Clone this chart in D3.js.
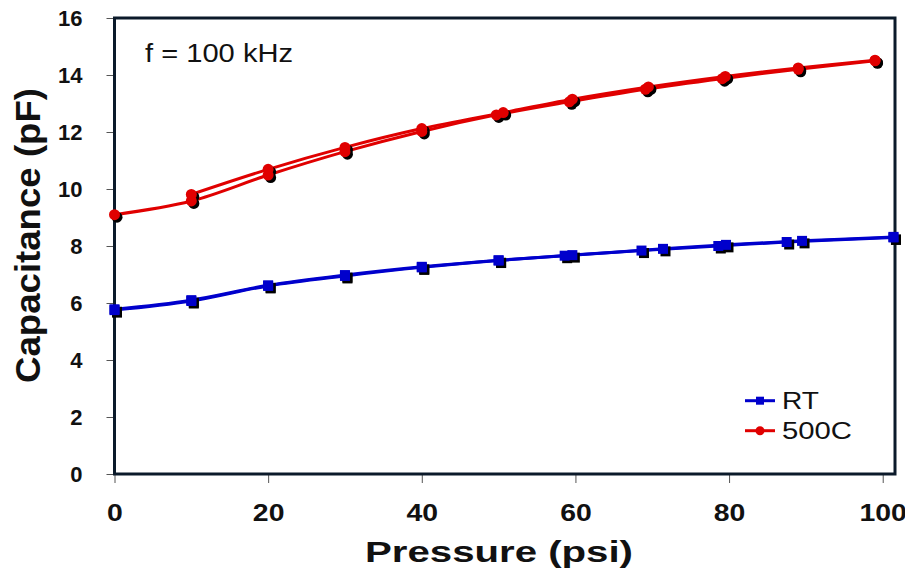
<!DOCTYPE html>
<html>
<head>
<meta charset="utf-8">
<script src="https://cdn.jsdelivr.net/npm/d3@7"></script>
<style>
  html, body { margin: 0; padding: 0; background: #fff; }
  svg { display: block; font-family: "Liberation Sans", Arial, sans-serif; }
</style>
</head>
<body>
<svg id="chart" width="905" height="576"></svg>
<script>
// Capacitance vs pressure, two sweeps per temperature
const rtSweep1X = [0, 10, 20, 30, 40, 50, 58.6, 68.6, 78.6, 87.5, 101.4];
const rtSweep1Y = [5.75, 6.07, 6.6, 6.95, 7.25, 7.49, 7.66, 7.84, 8.0, 8.14, 8.3];
const rtSweep2X = [0, 10, 20, 30, 40, 50, 59.6, 71.4, 79.6, 89.5, 101.4];
const rtSweep2Y = [5.78, 6.1, 6.62, 6.98, 7.27, 7.5, 7.68, 7.9, 8.04, 8.18, 8.32];

const hotSweep1X = [0, 10, 20, 30, 40, 49.7, 59.2, 69.1, 79.1, 89, 99];
const hotSweep1Y = [9.1, 9.58, 10.49, 11.31, 12.02, 12.6, 13.06, 13.5, 13.87, 14.2, 14.5];
const hotSweep2X = [10, 20, 30, 40, 50.6, 59.6, 69.5, 79.5, 89, 99];
const hotSweep2Y = [9.81, 10.69, 11.46, 12.12, 12.68, 13.15, 13.58, 13.95, 14.25, 14.52];

const xTicks = [0, 20, 40, 60, 80, 100];
const yTicks = [0, 2, 4, 6, 8, 10, 12, 14, 16];

const seriesNames = ["RT", "500C"];
const annotation = "f = 100 kHz";
const xTitle = "Pressure (psi)";
const yTitle = "Capacitance (pF)";

const BLUE = "#0000cc";
const RED = "#e00000";
const AXIS = "#0b1a2a";

const svg = d3.select("#chart");

const plotLeft = 114.5, plotRight = 895, plotTop = 18, plotBottom = 474;
const x = d3.scaleLinear().domain([0, 101.6]).range([plotLeft, plotRight]);
const y = d3.scaleLinear().domain([0, 16]).range([plotBottom, plotTop]);

const zip = (xs, ys) => xs.map((v, i) => [v, ys[i]]);
const rt = [zip(rtSweep1X, rtSweep1Y), zip(rtSweep2X, rtSweep2Y)];
const hot = [zip(hotSweep1X, hotSweep1Y), zip(hotSweep2X, hotSweep2Y)];

// Axes
const xAxis = svg.append("g")
  .attr("transform", `translate(0,${plotBottom})`)
  .call(d3.axisBottom(x).tickValues(xTicks).tickSize(9).tickPadding(22).tickFormat(d3.format("d")));
xAxis.select(".domain").remove();
xAxis.selectAll(".tick line").attr("stroke", "#555").attr("stroke-width", 1);
xAxis.selectAll(".tick text")
  .attr("fill", "#111")
  .style("font-size", "23px")
  .style("font-weight", "bold")
  .attr("textLength", d => String(d).length * 15.8)
  .attr("lengthAdjust", "spacingAndGlyphs");

const yAxis = svg.append("g")
  .attr("transform", `translate(${plotLeft},0)`)
  .call(d3.axisLeft(y).tickValues(yTicks).tickSize(8).tickPadding(24));
yAxis.select(".domain").remove();
yAxis.selectAll(".tick line").attr("stroke", "#555").attr("stroke-width", 1);
yAxis.selectAll(".tick text")
  .attr("fill", "#111")
  .style("font-size", "22px")
  .style("font-weight", "bold");

// Plot frame
svg.append("rect")
  .attr("x", plotLeft).attr("y", plotTop)
  .attr("width", plotRight - plotLeft).attr("height", plotBottom - plotTop)
  .attr("fill", "none").attr("stroke", AXIS).attr("stroke-width", 3);

// Lines
const line = d3.line().x(d => x(d[0])).y(d => y(d[1])).curve(d3.curveCatmullRom.alpha(0.5));
const plot = svg.append("g");

function drawSeries(sweeps, color, shape) {
  sweeps.forEach(pts => {
    plot.append("path").datum(pts)
      .attr("d", line).attr("fill", "none")
      .attr("stroke", color).attr("stroke-width", 3);
  });
  const all = sweeps.flat();
  const marks = (fill, off) => {
    if (shape === "square") {
      plot.selectAll(null).data(all).enter().append("rect")
        .attr("x", d => x(d[0]) - 5 + off).attr("y", d => y(d[1]) - 5 + off)
        .attr("width", 10).attr("height", 10).attr("fill", fill);
    } else {
      plot.selectAll(null).data(all).enter().append("circle")
        .attr("cx", d => x(d[0]) + off).attr("cy", d => y(d[1]) + off)
        .attr("r", 5.5).attr("fill", fill);
    }
  };
  marks("#000", 2.5);
  marks(color, 0);
}

drawSeries(rt, BLUE, "square");
drawSeries(hot, RED, "circle");

// Annotation
svg.append("text")
  .attr("x", 145).attr("y", 62)
  .attr("fill", "#111")
  .style("font-size", "25px")
  .attr("textLength", 148).attr("lengthAdjust", "spacingAndGlyphs")
  .text(annotation);

// Legend
const legend = svg.append("g");
const legendRows = [
  { name: seriesNames[0], color: BLUE, shape: "square", y: 400.7, w: 37 },
  { name: seriesNames[1], color: RED, shape: "circle", y: 430.7, w: 70 }
];
legendRows.forEach(r => {
  legend.append("line")
    .attr("x1", 745).attr("x2", 775).attr("y1", r.y).attr("y2", r.y)
    .attr("stroke", r.color).attr("stroke-width", 3);
  if (r.shape === "square") {
    legend.append("rect").attr("x", 756).attr("y", r.y - 4).attr("width", 8).attr("height", 8).attr("fill", r.color);
  } else {
    legend.append("circle").attr("cx", 760).attr("cy", r.y).attr("r", 4.5).attr("fill", r.color);
  }
  legend.append("text")
    .attr("x", 782).attr("y", r.y + 8.5)
    .attr("fill", "#111")
    .style("font-size", "23px")
    .attr("textLength", r.w).attr("lengthAdjust", "spacingAndGlyphs")
    .text(r.name);
});

// Axis titles
svg.append("text")
  .attr("x", 499).attr("y", 562)
  .attr("text-anchor", "middle")
  .attr("fill", "#111")
  .style("font-size", "29px").style("font-weight", "bold")
  .attr("textLength", 268).attr("lengthAdjust", "spacingAndGlyphs")
  .text(xTitle);

svg.append("text")
  .attr("transform", "translate(40,235.5) rotate(-90)")
  .attr("text-anchor", "middle")
  .attr("fill", "#111")
  .style("font-size", "35px").style("font-weight", "bold")
  .attr("textLength", 295).attr("lengthAdjust", "spacingAndGlyphs")
  .text(yTitle);
</script>
</body>
</html>
